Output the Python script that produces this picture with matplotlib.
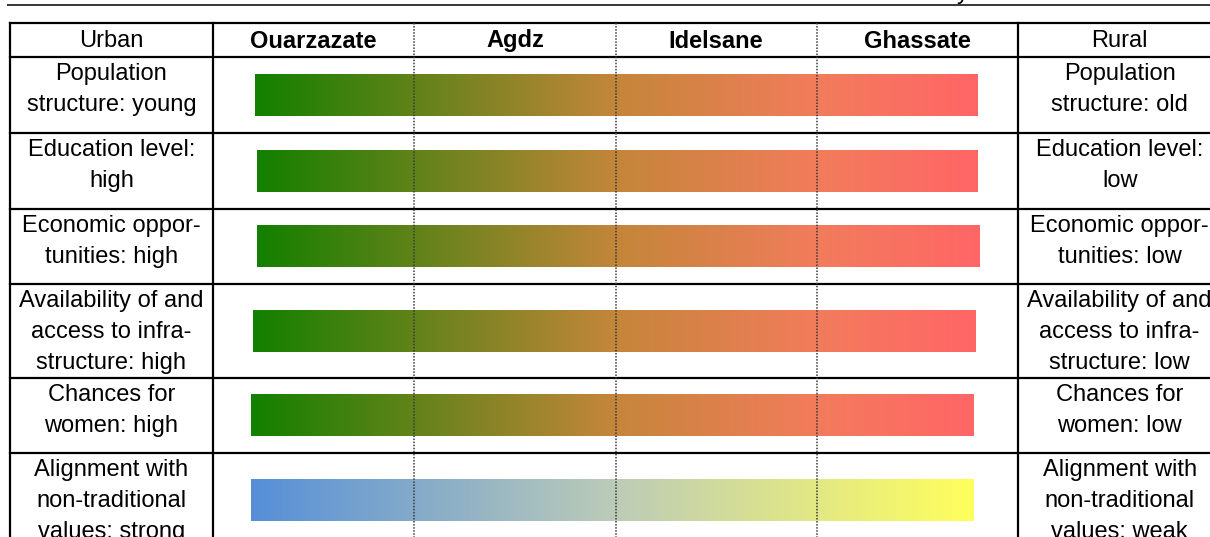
import numpy as np
import matplotlib.pyplot as plt
from matplotlib.colors import LinearSegmentedColormap

plt.rcParams['font.family'] = ['Liberation Sans', 'DejaVu Sans']

# column headers
left_header = 'Urban'
right_header = 'Rural'
towns = ['Ouarzazate', 'Agdz', 'Idelsane', 'Ghassate']

# row labels
urban_labels = ['Population\nstructure: young',
                'Education level:\nhigh',
                'Economic oppor-\ntunities: high',
                'Availability of and\naccess to infra-\nstructure: high',
                'Chances for\nwomen: high',
                'Alignment with\nnon-traditional\nvalues: strong']
rural_labels = ['Population\nstructure: old',
                'Education level:\nlow',
                'Economic oppor-\ntunities: low',
                'Availability of and\naccess to infra-\nstructure: low',
                'Chances for\nwomen: low',
                'Alignment with\nnon-traditional\nvalues: weak']

# bar extent in town-column units (Ouarzazate = 0 ... Ghassate = 3)
bar_start = [-0.29, -0.28, -0.28, -0.30, -0.31, -0.31]
bar_end = [3.30, 3.30, 3.31, 3.29, 3.28, 3.28]
bar_scheme = ['green_red', 'green_red', 'green_red', 'green_red', 'green_red', 'blue_yellow']

cmaps = {
    'green_red': LinearSegmentedColormap.from_list(
        'gr', [(0, '#138000'), (0.5, '#c4863a'), (0.78, '#f27c5c'), (1, '#ff6666')]),
    'blue_yellow': LinearSegmentedColormap.from_list(
        'by', [(0, '#568fd8'), (0.5, '#bccbb8'), (1, '#ffff5c')]),
}

# table layout (vertical in pixels, horizontal in column units)
px_per_col = 201.25
header_top, header_bot = 23, 57
row_edges = [57, 133, 209, 284, 378, 453, 548]
side_w = 1.01
bar_h = 42
fs = 17

fig = plt.figure(figsize=(12.1, 5.37), dpi=100)
ax = fig.add_axes([0, 0, 1, 1])
ax.axis('off')

x_left = -0.5 - 213 / px_per_col
x_right = 3.5 + (1210 - 1018) / px_per_col

# gradient bars
grad = np.linspace(0, 1, 256).reshape(1, -1)
for i in range(len(bar_start)):
    yc = (row_edges[i] + row_edges[i + 1]) / 2
    ax.imshow(grad, cmap=cmaps[bar_scheme[i]], aspect='auto',
              extent=(bar_start[i], bar_end[i], yc + bar_h / 2, yc - bar_h / 2),
              interpolation='bilinear', zorder=1)

# top rule
ax.plot([-0.5 - 206 / px_per_col, x_right], [5, 5], color='black', lw=1.1,
        solid_capstyle='butt', zorder=3)
ax.text(-0.5 + (963 - 213) / px_per_col, -1, 'y', fontsize=fs, ha='center',
        va='baseline', clip_on=False)

# table lines
lw = 1.6
tab_l, tab_r = -0.5 - side_w, 3.5 + side_w
for y in [header_top, header_bot] + row_edges[1:-1]:
    ax.plot([tab_l, tab_r], [y, y], color='black', lw=lw, zorder=3,
            solid_capstyle='projecting')
for x in [tab_l, -0.5, 3.5, tab_r]:
    ax.plot([x, x], [header_top, 560], color='black', lw=lw, zorder=3,
            solid_capstyle='projecting')
for x in [0.5, 1.5, 2.5]:
    ax.plot([x, x], [header_top, 560], color='#3a3a3a', lw=1.1,
            linestyle=(0, (1, 1)), zorder=4)

# header text
hy = (header_top + header_bot) / 2 + 1
ax.text(-0.5 - side_w / 2, hy, left_header, fontsize=fs, ha='center', va='center')
ax.text(3.5 + side_w / 2, hy, right_header, fontsize=fs, ha='center', va='center')
for j, t in enumerate(towns):
    ax.text(j, hy, t, fontsize=fs, fontweight='bold', ha='center', va='center')

# row labels
for i in range(len(urban_labels)):
    yt = row_edges[i] + 6
    ax.text(-0.5 - side_w / 2, yt, urban_labels[i], fontsize=fs, ha='center',
            va='top', linespacing=1.52, multialignment='center')
    ax.text(3.5 + side_w / 2, yt, rural_labels[i], fontsize=fs, ha='center',
            va='top', linespacing=1.52, multialignment='center', clip_on=False)

ax.set_xlim(x_left, x_right)
ax.set_ylim(537, 0)

fig.savefig('out.png', dpi=100)
